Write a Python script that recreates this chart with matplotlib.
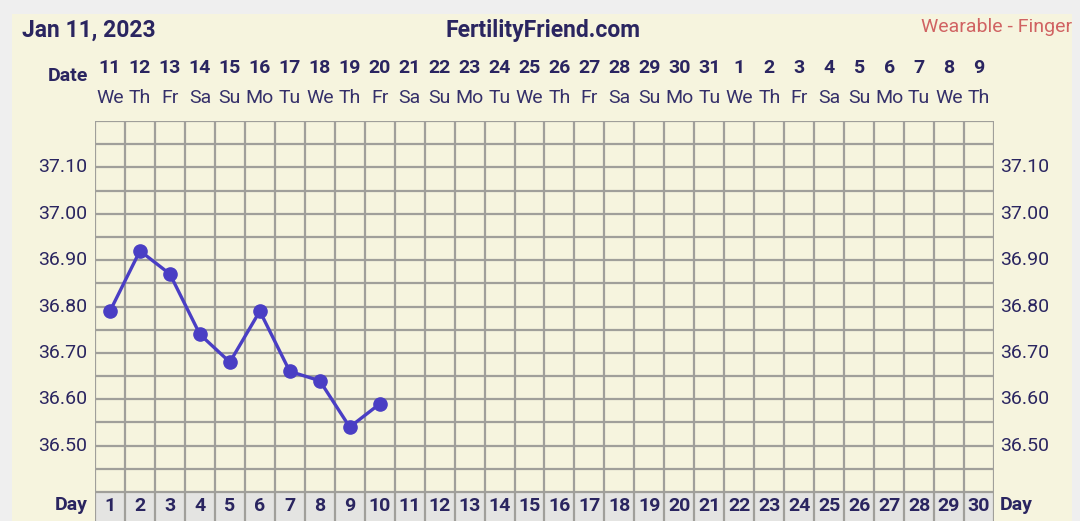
import matplotlib
matplotlib.use('Agg')
import matplotlib.pyplot as plt
from matplotlib.patches import Rectangle

# cycle data
days = list(range(1, 31))
dates = [str(d) for d in range(11, 32)] + [str(d) for d in range(1, 10)]
weekdays = ['We', 'Th', 'Fr', 'Sa', 'Su', 'Mo', 'Tu'] * 5
weekdays = weekdays[:30]
temp_days = [1, 2, 3, 4, 5, 6, 7, 8, 9, 10]
temps = [36.79, 36.92, 36.87, 36.74, 36.68, 36.79, 36.66, 36.64, 36.54, 36.59]
y_ticks = [36.50, 36.60, 36.70, 36.80, 36.90, 37.00, 37.10]

navy = '#2a2560'
grid_c = '#a09f9a'
line_c = '#4a3ec4'
cream = '#f6f4de'

plt.rcParams['font.family'] = ['Roboto', 'DejaVu Sans']

W, H = 1080, 521
fig = plt.figure(figsize=(W / 100, H / 100), dpi=100)
fig.patch.set_facecolor('#efefef')
fig.patches.append(Rectangle((12 / W, 0), (1072 - 12) / W, (H - 14) / H,
                             transform=fig.transFigure, facecolor=cream,
                             edgecolor='none', zorder=-5))

def fx(px):
    return px / W

def fy(py):
    return 1 - py / H

x0, x1 = 95, 994
y_top, y_bot = 121, 492

ax = fig.add_axes([fx(x0), fy(y_bot), fx(x1 - x0), (y_bot - y_top) / H])
ax.set_facecolor(cream)
ax.set_xlim(0.5, 30.5)
ax.set_ylim(36.40, 37.20)
for k in range(31):
    ax.axvline(0.5 + k, color=grid_c, lw=1.6, zorder=1)
for k in range(17):
    ax.axhline(36.40 + 0.05 * k, color=grid_c, lw=1.6, zorder=1)
for s in ax.spines.values():
    s.set_visible(False)
ax.set_xticks([])
ax.set_yticks([])

ax.plot(temp_days, temps, color=line_c, lw=2.4, marker='o', ms=9.5, zorder=3)

for t in y_ticks:
    yy = ax.transData.transform((1, t))[1]
    fig.text(fx(87), yy / H, f'{t:.2f}', ha='right', va='center',
             fontsize=14, color=navy)
    fig.text(fx(1000), yy / H, f'{t:.2f}', ha='left', va='center',
             fontsize=14, color=navy)

# day row
axd = fig.add_axes([fx(x0), 0, fx(x1 - x0), (H - y_bot) / H])
axd.set_facecolor('#e4e4e2')
axd.set_xlim(0.5, 30.5)
axd.set_ylim(0, 1)
for k in range(31):
    axd.axvline(0.5 + k, color=grid_c, lw=1.6)
axd.axhline(1, color=grid_c, lw=1.6)
for s in axd.spines.values():
    s.set_visible(False)
axd.set_xticks([])
axd.set_yticks([])
for d in days:
    axd.text(d, 0.52, str(d), ha='center', va='center', fontsize=14,
             fontweight='bold', color=navy)

fig.text(fx(88), fy(505), 'Day', ha='right', va='center', fontsize=14,
         fontweight='bold', color=navy)
fig.text(fx(1000), fy(505), 'Day', ha='left', va='center', fontsize=14,
         fontweight='bold', color=navy)

# date header
for d, lab, wd in zip(days, dates, weekdays):
    xx = ax.transData.transform((d, 37))[0] / W
    fig.text(xx, fy(68), lab, ha='center', va='center', fontsize=14,
             fontweight='bold', color=navy)
    fig.text(xx, fy(98), wd, ha='center', va='center', fontsize=14,
             color='#35306a')
fig.text(fx(88), fy(76), 'Date', ha='right', va='center', fontsize=14,
         fontweight='bold', color=navy)

fig.text(fx(22), fy(30), 'Jan 11, 2023', ha='left', va='center',
         fontsize=16.5, fontweight='bold', color=navy)
fig.text(fx(543), fy(30), 'FertilityFriend.com', ha='center', va='center',
         fontsize=16.5, fontweight='bold', color=navy)
fig.text(fx(1072), fy(27), 'Wearable - Finger', ha='right', va='center',
         fontsize=14, color='#d06262')

fig.savefig('out.png', dpi=100, facecolor=fig.get_facecolor())
